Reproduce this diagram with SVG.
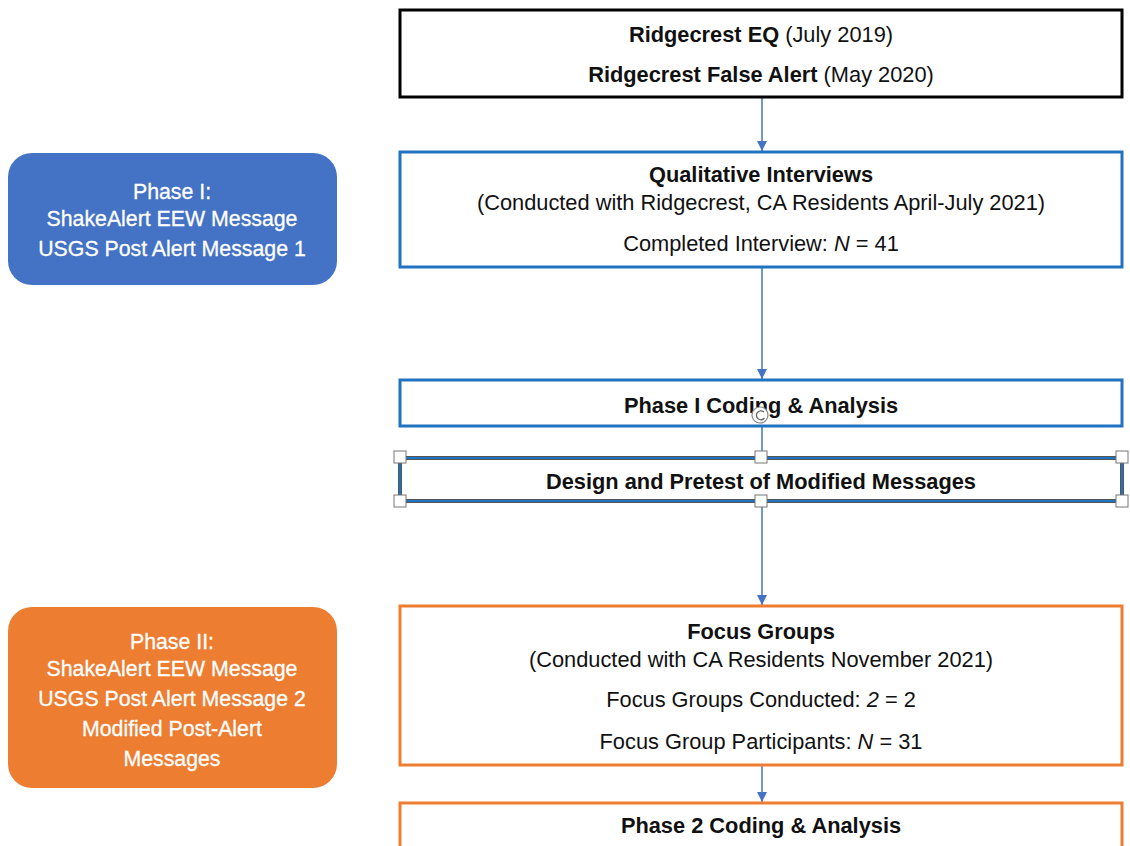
<svg xmlns="http://www.w3.org/2000/svg" width="1130" height="846" viewBox="0 0 1130 846">
<defs>
<marker id="ah" viewBox="0 0 10 10" refX="10" refY="5" markerWidth="10" markerHeight="10" markerUnits="userSpaceOnUse" orient="auto">
<path d="M0,0 L10,5 L0,10 z" fill="#4472c4"/>
</marker>
<style>
text{font-family:"Liberation Sans",Arial,sans-serif;font-size:21.8px;fill:#111;text-anchor:middle}
.b{font-weight:bold}
.w{fill:#fff;font-size:21.3px;stroke:#fff;stroke-width:0.3}
.box{fill:#fff;stroke-width:3}
.blk{stroke:#000}
.blu{stroke:#1f73c0}
.org{stroke:#ed7d31}
.conn{stroke:#4472c4;stroke-width:1.5;fill:none}
.hdl{fill:#fff;stroke:#777;stroke-width:1}
</style>
</defs>
<rect width="1130" height="846" fill="#fff"/>
<g id="connectors">
<line class="conn" x1="762" y1="97" x2="762" y2="151" marker-end="url(#ah)"/>
<line class="conn" x1="762" y1="267" x2="762" y2="379" marker-end="url(#ah)"/>
<line class="conn" x1="762" y1="426" x2="762" y2="457"/>
<line class="conn" x1="762" y1="501" x2="762" y2="605" marker-end="url(#ah)"/>
<line class="conn" x1="762" y1="765" x2="762" y2="802" marker-end="url(#ah)"/>
</g>
<g id="phase1">
<rect x="8" y="153" width="329" height="132" rx="24" fill="#4472c4"/>
<text class="w" x="172" y="199">Phase I:</text>
<text class="w" x="172" y="226">ShakeAlert EEW Message</text>
<text class="w" x="172" y="256">USGS Post Alert Message 1</text>
</g>
<g id="phase2">
<rect x="8" y="607" width="329" height="181" rx="24" fill="#ed7d31"/>
<text class="w" x="172" y="649">Phase II:</text>
<text class="w" x="172" y="676">ShakeAlert EEW Message</text>
<text class="w" x="172" y="706">USGS Post Alert Message 2</text>
<text class="w" x="172" y="736">Modified Post-Alert</text>
<text class="w" x="172" y="766">Messages</text>
</g>
<g id="events">
<rect class="box blk" x="400" y="10" width="722" height="87"/>
<text x="761" y="42"><tspan class="b">Ridgecrest EQ</tspan> (July 2019)</text>
<text x="761" y="82"><tspan class="b">Ridgecrest False Alert</tspan> (May 2020)</text>
</g>
<g id="interviews">
<rect class="box blu" x="400" y="152" width="722" height="115"/>
<text class="b" x="761" y="182">Qualitative Interviews</text>
<text x="761" y="210">(Conducted with Ridgecrest, CA Residents April-July 2021)</text>
<text x="761" y="251">Completed Interview: <tspan font-style="italic">N</tspan> = 41</text>
</g>
<g id="coding1">
<rect class="box blu" x="400" y="380" width="722" height="46"/>
<text class="b" x="761" y="413">Phase I Coding &amp; Analysis</text>
</g>
<g id="design">
<rect x="400" y="458" width="722" height="43" fill="#fff" stroke="#555" stroke-width="4"/>
<rect x="400" y="458" width="722" height="43" fill="none" stroke="#1f73c0" stroke-width="2"/>
<text class="b" x="761" y="489">Design and Pretest of Modified Messages</text>
</g>
<g id="selection">
<circle cx="760" cy="415" r="8" fill="#fff" stroke="#888" stroke-width="1.2"/>
<path d="M764,412 A4.5,4.5 0 1 0 764.5,418" fill="none" stroke="#666" stroke-width="1.3"/>
<rect class="hdl" x="394" y="451" width="12" height="12"/>
<rect class="hdl" x="755" y="451" width="12" height="12"/>
<rect class="hdl" x="1116" y="451" width="12" height="12"/>
<rect class="hdl" x="394" y="495" width="12" height="12"/>
<rect class="hdl" x="755" y="495" width="12" height="12"/>
<rect class="hdl" x="1116" y="495" width="12" height="12"/>
</g>
<g id="focus">
<rect class="box org" x="400" y="606" width="722" height="159"/>
<text class="b" x="761" y="639">Focus Groups</text>
<text x="761" y="667">(Conducted with CA Residents November 2021)</text>
<text x="761" y="707">Focus Groups Conducted: <tspan font-style="italic">2</tspan> = 2</text>
<text x="761" y="749">Focus Group Participants: <tspan font-style="italic">N</tspan> = 31</text>
</g>
<g id="coding2">
<rect class="box org" x="400" y="803" width="722" height="50"/>
<text class="b" x="761" y="833">Phase 2 Coding &amp; Analysis</text>
</g>
</svg>
